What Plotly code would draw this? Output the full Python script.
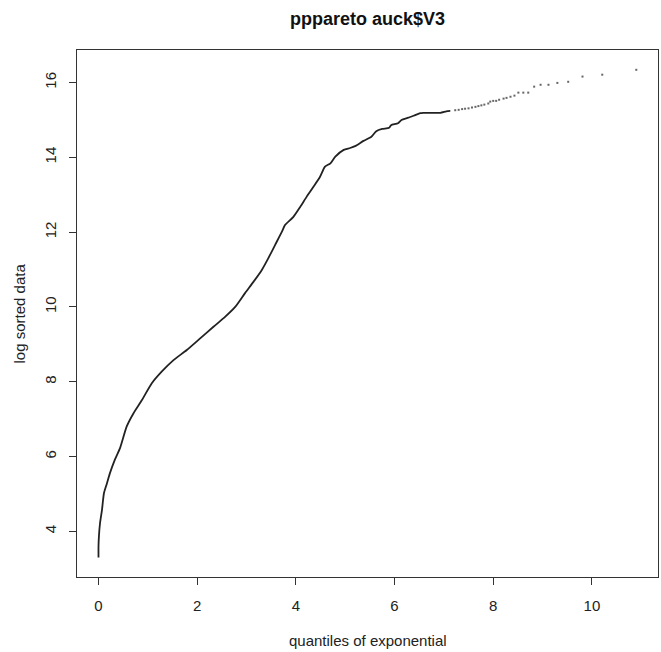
import plotly.graph_objects as go

# dense part of the curve
curve_x = [0.0, 0.0, 0.01, 0.03, 0.07, 0.11, 0.17, 0.23, 0.33, 0.44, 0.57, 0.71, 0.88, 1.08, 1.28,
           1.52, 1.79, 2.06, 2.33, 2.57, 2.77, 2.97, 3.14, 3.31, 3.44, 3.58, 3.72, 3.78, 3.95, 4.09,
           4.22, 4.36, 4.49, 4.59, 4.70, 4.80, 4.97, 5.10, 5.20, 5.37, 5.53, 5.63, 5.75, 5.89, 5.93,
           6.07, 6.14, 6.28, 6.42, 6.52, 6.58, 6.93, 7.05, 7.13]
curve_y = [3.30, 3.60, 3.90, 4.21, 4.57, 5.02, 5.28, 5.55, 5.91, 6.24, 6.80, 7.16, 7.51, 7.96, 8.27,
           8.58, 8.85, 9.16, 9.47, 9.74, 10.00, 10.37, 10.67, 10.99, 11.30, 11.66, 12.02, 12.19, 12.41, 12.68,
           12.95, 13.22, 13.48, 13.75, 13.84, 14.02, 14.20, 14.25, 14.30, 14.44, 14.55, 14.70, 14.76, 14.79, 14.86,
           14.91, 15.00, 15.06, 15.13, 15.18, 15.19, 15.19, 15.23, 15.24]

# sparse upper tail (individual points)
tail_x = [7.23, 7.30, 7.37, 7.43, 7.50, 7.57, 7.64, 7.70, 7.76, 7.82, 7.90, 7.94, 8.00, 8.06, 8.12,
          8.21, 8.27, 8.35, 8.43, 8.51, 8.61, 8.71, 8.83, 8.96, 9.12, 9.30, 9.52, 9.81, 10.21, 10.90]
tail_y = [15.26, 15.27, 15.29, 15.30, 15.31, 15.33, 15.35, 15.37, 15.39, 15.41, 15.44, 15.49, 15.51, 15.51, 15.54,
          15.57, 15.59, 15.62, 15.65, 15.73, 15.73, 15.73, 15.89, 15.94, 15.94, 15.99, 16.02, 16.16, 16.21, 16.34]

x_ticks = [0, 2, 4, 6, 8, 10]
y_ticks = [4, 6, 8, 10, 12, 14, 16]

fig = go.Figure()
fig.add_trace(go.Scatter(x=curve_x, y=curve_y, mode="lines",
                         line=dict(color="#222222", width=1.8, shape="spline", smoothing=0.6),
                         hoverinfo="skip"))
fig.add_trace(go.Scatter(x=tail_x, y=tail_y, mode="markers",
                         marker=dict(symbol="square", size=2, color="#666666", line=dict(width=0)),
                         hoverinfo="skip"))

font = "Liberation Sans, Arial, sans-serif"
axis_common = dict(showgrid=False, zeroline=False, showline=True, mirror=True,
                   linecolor="#333333", linewidth=1, ticks="outside", ticklen=7,
                   tickcolor="#333333", tickfont=dict(family=font, size=15, color="#222222"))

fig.update_layout(
    width=661, height=652,
    margin=dict(l=77, r=3, t=50, b=75),
    paper_bgcolor="white", plot_bgcolor="white",
    showlegend=False,
    xaxis=dict(range=[-0.436, 11.34], tickvals=x_ticks, ticktext=[str(v) for v in x_ticks],
               ticklabelstandoff=8, **axis_common),
    yaxis=dict(range=[2.78, 16.87], tickvals=y_ticks, ticktext=[str(v) for v in y_ticks],
               tickangle=-90, ticklabelstandoff=7, **axis_common),
    annotations=[
        dict(text="<b>pppareto auck$V3</b>", x=0.5, y=(577 - 19) / 527, xref="paper", yref="paper",
             showarrow=False, xanchor="center", yanchor="middle",
             font=dict(family=font, size=18, color="#111111")),
        dict(text="quantiles of exponential", x=0.5, y=(577 - 640) / 527, xref="paper", yref="paper",
             showarrow=False, xanchor="center", yanchor="middle",
             font=dict(family=font, size=15, color="#222222")),
        dict(text="log sorted data", x=(19 - 77) / 581, y=0.5, xref="paper", yref="paper",
             showarrow=False, xanchor="center", yanchor="middle", textangle=-90,
             font=dict(family=font, size=15, color="#222222")),
    ],
)

fig.write_html("out.html", config={"displayModeBar": False},
               post_script="document.body.style.margin='0';document.body.style.overflow='hidden';")
